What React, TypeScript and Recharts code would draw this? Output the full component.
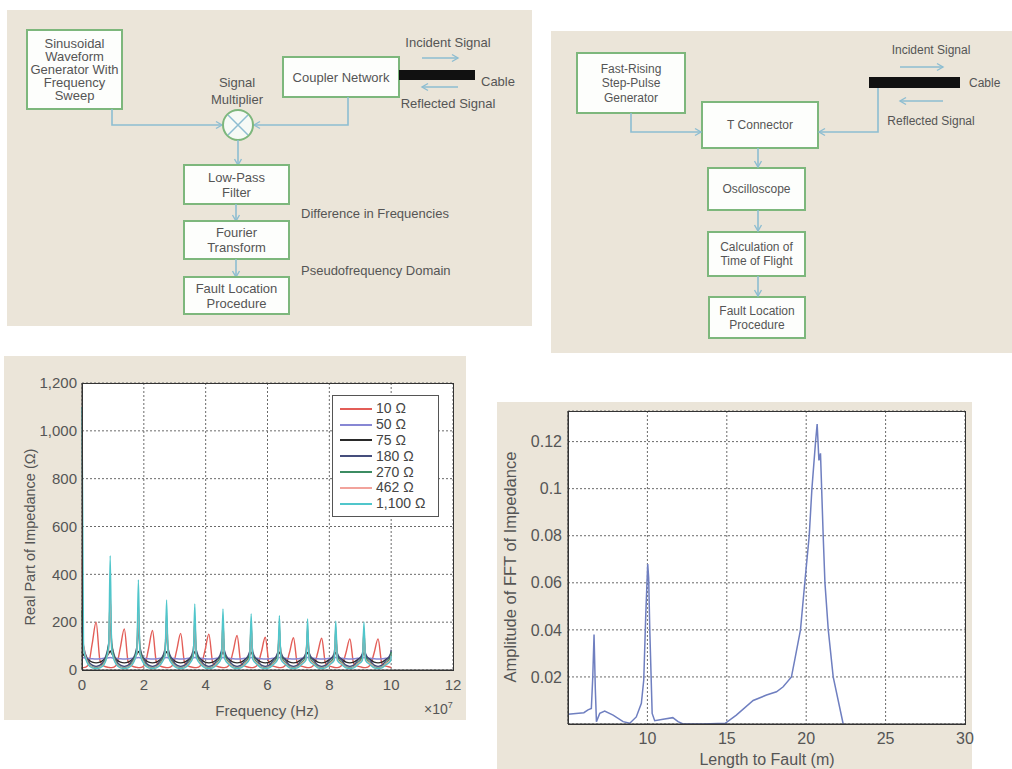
import React from 'react';
import { LineChart, Line, XAxis, YAxis, CartesianGrid, Legend } from 'recharts';

// Frequency sweep, in units of 1e7 Hz
const freqGrid = [
  0, 0.05, 0.2, 0.33, 0.456, 0.582, 0.712, 0.862,
  0.912, 0.962, 1.112, 1.242, 1.368, 1.494, 1.624, 1.774,
  1.824, 1.874, 2.024, 2.154, 2.28, 2.406, 2.536, 2.686,
  2.736, 2.786, 2.936, 3.066, 3.192, 3.318, 3.448, 3.598,
  3.648, 3.698, 3.848, 3.978, 4.104, 4.23, 4.36, 4.51,
  4.56, 4.61, 4.76, 4.89, 5.016, 5.142, 5.272, 5.422,
  5.472, 5.522, 5.672, 5.802, 5.928, 6.054, 6.184, 6.334,
  6.384, 6.434, 6.584, 6.714, 6.84, 6.966, 7.096, 7.246,
  7.296, 7.346, 7.496, 7.626, 7.752, 7.878, 8.008, 8.158,
  8.208, 8.258, 8.408, 8.538, 8.664, 8.79, 8.92, 9.07,
  9.12, 9.17, 9.32, 9.45, 9.576, 9.702, 9.832, 9.982,
  10,
];

// Real part of input impedance per load (ohm)
const ohm10 = [
  10, 10, 20, 110, 200, 40, 16, 11,
  10, 10, 20, 95, 172, 34, 16, 11,
  10, 10, 20, 90, 165, 33, 16, 11,
  10, 10, 20, 84, 153, 31, 16, 11,
  10, 10, 20, 82, 150, 30, 16, 11,
  10, 10, 20, 79, 144, 29, 16, 11,
  10, 10, 20, 75, 137, 27, 16, 11,
  10, 10, 20, 74, 135, 27, 16, 11,
  10, 10, 20, 73, 133, 27, 16, 11,
  10, 10, 20, 72, 130, 26, 16, 11,
  10, 10, 20, 72, 130, 26, 16, 11,
  10,
];
const ohm50 = [
  52, 51, 49, 47, 46, 47, 49, 51,
  52, 51, 49, 47, 46, 47, 49, 51,
  52, 51, 49, 47, 46, 47, 49, 51,
  52, 51, 49, 47, 46, 47, 49, 51,
  52, 51, 49, 47, 46, 47, 49, 51,
  52, 51, 49, 47, 46, 47, 49, 51,
  52, 51, 49, 47, 46, 47, 49, 51,
  52, 51, 49, 47, 46, 47, 49, 51,
  52, 51, 49, 47, 46, 47, 49, 51,
  52, 51, 49, 47, 46, 47, 49, 51,
  52, 51, 49, 47, 46, 47, 49, 51,
  52,
];
const ohm75 = [
  75, 63, 44, 33, 30, 33, 44, 68,
  80, 68, 44, 33, 30, 33, 44, 66,
  78, 66, 44, 33, 30, 33, 44, 65,
  77, 65, 44, 33, 30, 33, 44, 64,
  76, 64, 44, 33, 30, 33, 44, 63,
  75, 63, 44, 33, 30, 33, 44, 62,
  74, 62, 44, 33, 30, 33, 44, 62,
  74, 62, 44, 33, 30, 33, 44, 61,
  73, 61, 44, 33, 30, 33, 44, 61,
  73, 61, 44, 33, 30, 33, 44, 60,
  72, 60, 44, 33, 30, 33, 44, 60,
  64,
];
const ohm180 = [
  180, 100, 40, 20, 15, 20, 40, 110,
  200, 110, 40, 20, 15, 20, 40, 96,
  175, 96, 40, 20, 15, 20, 40, 88,
  160, 88, 40, 20, 15, 20, 40, 83,
  150, 83, 40, 20, 15, 20, 40, 80,
  145, 80, 40, 20, 15, 20, 40, 77,
  140, 77, 40, 20, 15, 20, 40, 74,
  135, 74, 40, 20, 15, 20, 40, 72,
  130, 72, 40, 20, 15, 20, 40, 70,
  128, 70, 40, 20, 15, 20, 40, 69,
  125, 69, 40, 20, 15, 20, 40, 69,
  85,
];
const ohm270 = [
  250, 90, 30, 13, 9, 13, 30, 105,
  300, 105, 30, 13, 9, 13, 30, 86,
  245, 86, 30, 13, 9, 13, 30, 75,
  215, 75, 30, 13, 9, 13, 30, 70,
  200, 70, 30, 13, 9, 13, 30, 66,
  190, 66, 30, 13, 9, 13, 30, 64,
  182, 64, 30, 13, 9, 13, 30, 61,
  175, 61, 30, 13, 9, 13, 30, 59,
  168, 59, 30, 13, 9, 13, 30, 57,
  162, 57, 30, 13, 9, 13, 30, 55,
  158, 55, 30, 13, 9, 13, 30, 55,
  75,
];
const ohm462 = [
  462, 100, 26, 11, 7, 11, 26, 82,
  330, 82, 26, 11, 7, 11, 26, 70,
  280, 70, 26, 11, 7, 11, 26, 60,
  240, 60, 26, 11, 7, 11, 26, 56,
  225, 56, 26, 11, 7, 11, 26, 52,
  210, 52, 26, 11, 7, 11, 26, 50,
  200, 50, 26, 11, 7, 11, 26, 48,
  192, 48, 26, 11, 7, 11, 26, 46,
  185, 46, 26, 11, 7, 11, 26, 45,
  180, 45, 26, 11, 7, 11, 26, 44,
  176, 44, 26, 11, 7, 11, 26, 44,
  60,
];
const ohm1100 = [
  1100, 90, 22, 9, 6, 9, 22, 95,
  478, 80, 22, 9, 6, 9, 22, 75,
  377, 65, 22, 9, 6, 9, 22, 60,
  293, 58, 22, 9, 6, 9, 22, 55,
  276, 52, 22, 9, 6, 9, 22, 50,
  255, 48, 22, 9, 6, 9, 22, 46,
  234, 45, 22, 9, 6, 9, 22, 45,
  227, 44, 22, 9, 6, 9, 22, 42,
  213, 41, 22, 9, 6, 9, 22, 40,
  204, 40, 22, 9, 6, 9, 22, 40,
  200, 40, 22, 9, 6, 9, 22, 38,
  60,
];

const loadKeys = ['z10', 'z50', 'z75', 'z180', 'z270', 'z462', 'z1100'];
const loadNames = ['10 Ω', '50 Ω', '75 Ω', '180 Ω', '270 Ω', '462 Ω', '1,100 Ω'];
const loadColors = ['#e35d57', '#8787d4', '#2a2a2a', '#454d7c', '#3c8c62', '#f2a39c', '#50c6cb'];
const freqTicks = [0, 2, 4, 6, 8, 10, 12];
const impedanceTicks = [0, 200, 400, 600, 800, 1000, 1200];

// FFT of the impedance vs. distance to fault
const faultLength = [
  5, 5.5, 6.0, 6.26, 6.47, 6.56, 6.64, 6.72, 6.79, 7.0, 7.31, 7.84, 8.47, 8.89,
  9.3, 9.62, 9.77, 9.9, 10.02, 10.08, 10.15, 10.3, 10.46, 10.99, 11.6, 11.93, 12.25,
  13.5, 14.9, 15.6, 16.66, 17.5, 18.13, 18.55, 19.07, 19.3, 19.64, 19.91, 20.19,
  20.36, 20.59, 20.69, 20.8, 20.9, 21.07, 21.18, 21.39, 21.7, 22.33,
];
const fftAmplitude = [
  0.0041, 0.0045, 0.0048, 0.006, 0.0066, 0.02, 0.038, 0.015, 0.001, 0.0045, 0.0055, 0.0038, 0.001, 0.0003,
  0.003, 0.0088, 0.0187, 0.047, 0.068, 0.062, 0.04, 0.0045, 0.0014, 0.002, 0.0027, 0.001, 0,
  0, 0.0003, 0.0038, 0.01, 0.0123, 0.0137, 0.0158, 0.02, 0.028, 0.04, 0.06, 0.08,
  0.1, 0.12, 0.1275, 0.112, 0.115, 0.08, 0.06, 0.04, 0.02, 0,
];
const lengthTicks = [10, 15, 20, 25, 30];
const amplitudeTicks = [0.02, 0.04, 0.06, 0.08, 0.1, 0.12];

const impedanceRows = freqGrid.map((f, i) => ({
  f,
  z10: ohm10[i],
  z50: ohm50[i],
  z75: ohm75[i],
  z180: ohm180[i],
  z270: ohm270[i],
  z462: ohm462[i],
  z1100: ohm1100[i],
}));
const fftRows = faultLength.map((x, i) => ({ x, a: fftAmplitude[i] }));

const FONT = '"Liberation Sans", Arial, Helvetica, sans-serif';
const BEIGE = '#ebe5d9';
const GREEN = '#7db77c';
const BLUE = '#8dbdd1';
const INK = '#555';
const GRID = '#6a6a6a';

function ImpedanceLegend() {
  return (
    <div style={{ width: 107, height: 122, background: '#fff', border: '1px solid #555', boxSizing: 'border-box', paddingTop: 5 }}>
      {loadNames.map((n, i) => (
        <div key={n} style={{ display: 'flex', alignItems: 'center', height: 15.8 }}>
          <span style={{ marginLeft: 7, width: 32, height: 0, borderTop: `2px solid ${loadColors[i]}` }} />
          <span style={{ marginLeft: 4, fontSize: 14, color: '#444', lineHeight: '15px' }}>{n}</span>
        </div>
      ))}
    </div>
  );
}

function Block({ x, y, w, h, lines, size, lh }: { x: number; y: number; w: number; h: number; lines: string[]; size: number; lh: number }) {
  const cy = y + h / 2;
  const first = cy - ((lines.length - 1) * lh) / 2;
  return (
    <g>
      <rect x={x} y={y} width={w} height={h} fill="#fdfefc" stroke={GREEN} strokeWidth={2} />
      <text fontSize={size} fill={INK} textAnchor="middle">
        {lines.map((l, i) => (
          <tspan key={i} x={x + w / 2} y={first + i * lh} dominantBaseline="central">{l}</tspan>
        ))}
      </text>
    </g>
  );
}

function Diagrams() {
  const wire = { fill: 'none', stroke: BLUE, strokeWidth: 1.6, markerEnd: 'url(#tip)' } as const;
  return (
    <svg width={1012} height={360} style={{ position: 'absolute', left: 0, top: 0, fontFamily: FONT }}>
      <defs>
        <marker id="tip" markerWidth="10" markerHeight="10" refX="8" refY="5" orient="auto" markerUnits="userSpaceOnUse">
          <path d="M2,1.5 L8,5 L2,8.5" fill="none" stroke={BLUE} strokeWidth="1.4" />
        </marker>
      </defs>

      {/* frequency-domain reflectometry */}
      <rect x={7} y={10} width={525} height={316} fill={BEIGE} />
      <Block x={27} y={30} w={95} h={79} size={13} lh={13} lines={['Sinusoidal', 'Waveform', 'Generator With', 'Frequency', 'Sweep']} />
      <Block x={283} y={57} w={116} h={40} size={13} lh={13} lines={['Coupler Network']} />
      <rect x={399} y={70} width={76} height={10} fill="#111" />
      <text x={448} y={42} fontSize={13} fill={INK} textAnchor="middle" dominantBaseline="central">Incident Signal</text>
      <path d="M422,58 L458,58" {...wire} />
      <path d="M458,87 L422,87" {...wire} />
      <text x={448} y={103} fontSize={13} fill={INK} textAnchor="middle" dominantBaseline="central">Reflected Signal</text>
      <text x={481} y={81} fontSize={13} fill={INK} dominantBaseline="central">Cable</text>
      <text fontSize={13} fill={INK} textAnchor="middle">
        <tspan x={237} y={82} dominantBaseline="central">Signal</tspan>
        <tspan x={237} y={99} dominantBaseline="central">Multiplier</tspan>
      </text>
      <path d="M112,109 L112,125 L222,125" {...wire} />
      <path d="M348,97 L348,125 L254,125" {...wire} />
      <circle cx={238} cy={125} r={15} fill="#f6faf6" stroke={GREEN} strokeWidth={2} />
      <path d="M228,115 L248,135 M248,115 L228,135" stroke={BLUE} strokeWidth={1.5} />
      <path d="M238,140 L238,165" {...wire} />
      <Block x={184} y={165} w={105} h={39} size={13} lh={15} lines={['Low-Pass', 'Filter']} />
      <path d="M236,204 L236,221" {...wire} />
      <Block x={184} y={221} w={105} h={38} size={13} lh={15} lines={['Fourier', 'Transform']} />
      <path d="M236,259 L236,277" {...wire} />
      <Block x={184} y={277} w={105} h={37} size={13} lh={15} lines={['Fault Location', 'Procedure']} />
      <text x={301} y={213} fontSize={13} fill={INK} dominantBaseline="central">Difference in Frequencies</text>
      <text x={301} y={270} fontSize={13} fill={INK} dominantBaseline="central">Pseudofrequency Domain</text>

      {/* time-domain reflectometry */}
      <rect x={551} y={31} width={461} height={322} fill={BEIGE} />
      <Block x={577} y={53} w={108} h={60} size={12} lh={14.5} lines={['Fast-Rising', 'Step-Pulse', 'Generator']} />
      <Block x={702} y={102} w={116} h={46} size={12} lh={14} lines={['T Connector']} />
      <Block x={708} y={168} w={97} h={42} size={12} lh={14} lines={['Oscilloscope']} />
      <Block x={708} y={232} w={97} h={44} size={12} lh={14} lines={['Calculation of', 'Time of Flight']} />
      <Block x={709} y={297} w={96} h={41} size={12} lh={14} lines={['Fault Location', 'Procedure']} />
      <rect x={869} y={77} width={91} height={11} fill="#111" />
      <text x={969} y={83} fontSize={12} fill={INK} dominantBaseline="central">Cable</text>
      <text x={931} y={50} fontSize={12} fill={INK} textAnchor="middle" dominantBaseline="central">Incident Signal</text>
      <path d="M900,67 L943,67" {...wire} />
      <path d="M943,101 L900,101" {...wire} />
      <text x={931} y={121} fontSize={12} fill={INK} textAnchor="middle" dominantBaseline="central">Reflected Signal</text>
      <path d="M631,113 L631,132 L701,132" {...wire} />
      <path d="M878,88 L878,132 L819,132" {...wire} />
      <path d="M758,148 L758,167" {...wire} />
      <path d="M758,210 L758,231" {...wire} />
      <path d="M758,276 L758,296" {...wire} />
    </svg>
  );
}

const tickStyle = { fill: INK, fontSize: 15 };
const frame = { position: 'absolute', border: '1px solid #333', pointerEvents: 'none', boxSizing: 'border-box' } as const;

export default function App() {
  return (
    <div style={{ position: 'absolute', left: 0, top: 0, width: 1012, height: 769, background: '#fff', overflow: 'hidden', fontFamily: FONT }}>
      <Diagrams />

      {/* real part of impedance vs frequency */}
      <div style={{ position: 'absolute', left: 4, top: 356, width: 462, height: 364, background: BEIGE }} />
      <div style={{ position: 'absolute', left: 0, top: 370 }}>
        <LineChart width={470} height={350} data={impedanceRows} margin={{ top: 13, right: 17, left: 0, bottom: 0 }}>
          <CartesianGrid fill="#fff" stroke={GRID} strokeDasharray="2 2" />
          <XAxis dataKey="f" type="number" domain={[0, 12]} ticks={freqTicks} interval={0} height={50}
            tick={tickStyle} tickSize={0} tickMargin={9} axisLine={{ stroke: '#333' }} />
          <YAxis type="number" domain={[0, 1200]} ticks={impedanceTicks} interval={0} width={82}
            tick={tickStyle} tickSize={0} tickMargin={5} axisLine={{ stroke: '#333' }}
            tickFormatter={(v: number) => v.toLocaleString('en-US')} />
          {loadKeys.map((k, i) => (
            <Line key={k} dataKey={k} name={loadNames[i]} type="monotone" stroke={loadColors[i]} strokeWidth={1.4}
              dot={false} isAnimationActive={false} />
          ))}
          <Legend layout="vertical" align="center" verticalAlign="middle" content={() => <ImpedanceLegend />}
            wrapperStyle={{ left: 332, top: 25, width: 107, height: 122 }} />
        </LineChart>
      </div>
      <div style={{ ...frame, left: 82, top: 383, width: 372, height: 288 }} />
      <div style={{ position: 'absolute', left: 167, top: 702, width: 200, textAlign: 'center', fontSize: 15, color: INK }}>Frequency (Hz)</div>
      <div style={{ position: 'absolute', left: 424, top: 700, fontSize: 14, color: INK }}>×10<sup style={{ fontSize: 9 }}>7</sup></div>
      <div style={{ position: 'absolute', left: 30 - 110, top: 537 - 10, width: 220, height: 20, lineHeight: '20px', textAlign: 'center', fontSize: 14.5, color: INK, transform: 'rotate(-90deg)' }}>Real Part of Impedance (Ω)</div>

      {/* FFT amplitude vs length to fault */}
      <div style={{ position: 'absolute', left: 497, top: 402, width: 475, height: 367, background: BEIGE }} />
      <div style={{ position: 'absolute', left: 490, top: 402 }}>
        <LineChart width={494} height={367} data={fftRows} margin={{ top: 9, right: 19, left: 0, bottom: 0 }}>
          <CartesianGrid fill="#fff" stroke={GRID} strokeDasharray="2 2" />
          <XAxis dataKey="x" type="number" domain={[5, 30]} ticks={lengthTicks} interval={0} height={45}
            tick={{ ...tickStyle, fontSize: 16 }} tickSize={0} tickMargin={9} axisLine={{ stroke: '#333' }} />
          <YAxis type="number" domain={[0, 0.133]} ticks={amplitudeTicks} interval={0} width={78}
            tick={{ ...tickStyle, fontSize: 16 }} tickSize={0} tickMargin={6} axisLine={{ stroke: '#333' }} />
          <Line dataKey="a" type="linear" stroke="#6f7fc0" strokeWidth={1.5} dot={false} isAnimationActive={false} />
        </LineChart>
      </div>
      <div style={{ ...frame, left: 568, top: 411, width: 398, height: 314 }} />
      <div style={{ position: 'absolute', left: 510 - 130, top: 567 - 11, width: 260, height: 22, lineHeight: '22px', textAlign: 'center', fontSize: 16.5, color: INK, transform: 'rotate(-90deg)' }}>Amplitude of FFT of Impedance</div>
      <div style={{ position: 'absolute', left: 667, top: 751, width: 200, height: 18, lineHeight: '17px', textAlign: 'center', fontSize: 16, color: INK }}>Length to Fault (m)</div>
    </div>
  );
}
